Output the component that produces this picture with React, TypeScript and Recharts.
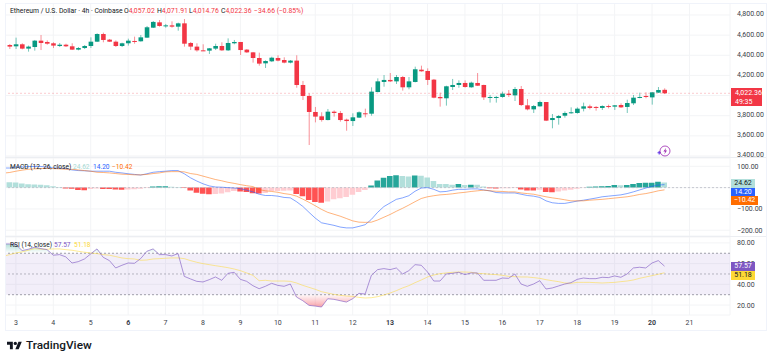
import { ComposedChart, Bar, Line, Area, Cell, XAxis, YAxis, CartesianGrid, ReferenceLine, ReferenceArea } from "recharts";

// the first slot sits just off the left edge, only the indicators still have values there
const opens = [null,
  4502, 4489, 4509, 4466, 4482, 4545, 4532, 4519, 4492, 4505,
  4489, 4456, 4472, 4492, 4535, 4611, 4555, 4535, 4492, 4519,
  4542, 4539, 4575, 4674, 4727, 4688, 4697, 4684, 4717, 4522,
  4486, 4449, 4446, 4466, 4492, 4449, 4519, 4532, 4456, 4429,
  4373, 4320, 4340, 4373, 4353, 4327, 4347, 4105, 3996, 3837,
  3794, 3757, 3840, 3827, 3761, 3747, 3781, 3824, 3820, 4035,
  4135, 4155, 4141, 4184, 4082, 4135, 4257, 4244, 4158, 3986,
  3973, 4085, 4105, 4125, 4082, 4125, 4105, 3979, 3982, 3986,
  4019, 4002, 4065, 3903, 3863, 3893, 3936, 3757, 3777, 3800,
  3827, 3827, 3870, 3893, 3887, 3877, 3896, 3890, 3906, 3887,
  3923, 3979, 3996, 3982, 4029, 4057.02];
const highs = [null,
  4512, 4575, 4519, 4496, 4552, 4601, 4548, 4529, 4522, 4515,
  4519, 4482, 4502, 4578, 4618, 4625, 4562, 4548, 4525, 4565,
  4585, 4601, 4691, 4740, 4750, 4711, 4737, 4724, 4760, 4532,
  4519, 4509, 4472, 4515, 4529, 4568, 4552, 4532, 4462, 4433,
  4426, 4350, 4386, 4400, 4380, 4353, 4400, 4145, 4022, 3887,
  3834, 3867, 3853, 3847, 3771, 3824, 3843, 3870, 4082, 4171,
  4204, 4224, 4204, 4194, 4184, 4287, 4297, 4270, 4165, 4029,
  4098, 4165, 4151, 4151, 4138, 4224, 4108, 4006, 3996, 4039,
  4055, 4085, 4095, 3966, 3906, 3949, 3936, 3817, 3807, 3843,
  3883, 3883, 3930, 3910, 3896, 3903, 3910, 3906, 3923, 3959,
  4006, 4029, 4032, 4035, 4085, 4071.91];
const lows = [null,
  4462, 4462, 4459, 4436, 4446, 4452, 4505, 4472, 4482, 4482,
  4452, 4449, 4462, 4472, 4532, 4529, 4532, 4482, 4482, 4496,
  4515, 4535, 4572, 4671, 4684, 4674, 4674, 4644, 4486, 4452,
  4436, 4443, 4413, 4452, 4443, 4443, 4509, 4403, 4423, 4327,
  4297, 4274, 4333, 4340, 4320, 4320, 4078, 3956, 3509, 3734,
  3741, 3754, 3791, 3741, 3651, 3698, 3777, 3784, 3800, 4032,
  4088, 4135, 4115, 4049, 4062, 4131, 4237, 4105, 3973, 3890,
  3900, 4055, 4078, 4078, 4078, 4095, 3956, 3930, 3930, 3979,
  3986, 3946, 3896, 3853, 3827, 3890, 3747, 3675, 3711, 3781,
  3820, 3820, 3843, 3863, 3850, 3857, 3873, 3857, 3877, 3827,
  3906, 3973, 3973, 3910, 4026, 4014.76];
const closes = [null,
  4486, 4509, 4466, 4486, 4545, 4522, 4515, 4496, 4505, 4489,
  4456, 4472, 4492, 4535, 4611, 4552, 4535, 4492, 4519, 4545,
  4535, 4578, 4678, 4731, 4691, 4697, 4684, 4717, 4515, 4486,
  4449, 4446, 4469, 4492, 4449, 4522, 4532, 4452, 4429, 4373,
  4317, 4343, 4376, 4347, 4327, 4347, 4105, 3996, 3837, 3791,
  3757, 3840, 3827, 3757, 3747, 3784, 3834, 3817, 4039, 4141,
  4155, 4141, 4184, 4082, 4141, 4261, 4241, 4155, 3979, 3973,
  4092, 4105, 4125, 4085, 4128, 4098, 3982, 3986, 3986, 4019,
  4006, 4065, 3906, 3863, 3896, 3936, 3751, 3777, 3797, 3827,
  3834, 3870, 3893, 3877, 3877, 3896, 3887, 3903, 3883, 3926,
  3979, 3986, 3986, 4032, 4055, 4022.36];

const histogram = [26,
  25, 24.5, 19, 16, 14.5, 14, 11, 6, 3, -4,
  -5, -11, -12, -7, -4, -6, -7, -9, -10, -9,
  -8, -5, -2, 5, 6, 6.5, 4, 3, -2, -14,
  -24, -29, -31, -30, -27, -22, -16, -18, -20, -26,
  -28, -25, -16, -15.5, -15, -14, -30, -40, -58, -68,
  -71, -65, -55, -50, -44, -33, -20, -11, 10, 33,
  46, 55, 58, 55, 52, 57, 56, 47, 31, 17,
  16.5, 13, 17, 12, 14, 13, 5, -3, -4, -3,
  -2.5, -2, -9, -13, -14, -10, -20, -22, -18, -14,
  -10, -5, -1, 4, 5, 6, 8, 12, 11, 12,
  17, 22, 22.5, 23, 28, 24.62];
const macd = [92,
  92, 97, 97, 99, 99, 99, 97, 92, 92, 89,
  83, 80, 79, 77, 77, 77, 77, 72, 69, 65,
  62, 59, 65, 72, 75, 77, 80, 80, 65, 46,
  31, 18, 8, 3, 2, 0, -2, -5, -12, -20,
  -31, -37, -37, -40, -46, -48, -66, -88, -116, -143,
  -165, -171, -177, -185, -189, -189, -182, -174, -149, -116,
  -89, -72, -55, -48, -38, -17, -2, 0, -8, -20,
  -18, -12, -8, -8, -6, -6, -11, -15, -23, -25,
  -25, -25, -31, -37, -40, -46, -62, -71, -74, -74,
  -69, -63, -59, -54, -49, -43, -40, -37, -34, -28,
  -20, -11, -2, 6, 12, 14.2];
const macdSignal = [68,
  71, 77, 82, 86, 88, 89, 91, 89, 88, 86,
  86, 83, 80, 77, 72, 71, 69, 66, 63, 62,
  60, 60, 62, 66, 69, 74, 75, 75, 74, 66,
  62, 54, 46, 38, 32, 25, 20, 14, 9, 5,
  -9, -15, -18, -22, -28, -32, -40, -54, -69, -85,
  -102, -116, -125, -134, -145, -156, -162, -163, -162, -152,
  -139, -126, -111, -97, -82, -66, -51, -43, -38, -34,
  -32, -29, -25, -22, -18, -15, -12, -15, -17, -18,
  -20, -20, -25, -28, -31, -37, -43, -48, -52, -57,
  -62, -62, -62, -59, -57, -55, -52, -49, -46, -43,
  -38, -32, -28, -22, -15, -10.42];
const rsi = [79,
  79, 78.4, 72.6, 73.9, 75.8, 74.5, 73.5, 68.1, 68.7, 66.5,
  60.6, 61.9, 64.5, 69.4, 74.2, 66.1, 62.9, 55.8, 58.4, 60.6,
  60.3, 64.8, 71.9, 74.2, 68.7, 68.7, 67.4, 69.7, 47.7, 45.2,
  42.9, 42.3, 44.5, 47.1, 43.9, 50.6, 51.6, 44.8, 42.9, 38.7,
  35.8, 38.1, 41, 39, 38.1, 40.3, 27.7, 24.2, 19.7, 19,
  18.1, 26.1, 25.5, 24.2, 22.9, 26.1, 31.3, 30.6, 48.7, 54.2,
  55.2, 54.2, 55.8, 50, 53.2, 59, 58.4, 51.9, 43.2, 43.2,
  50, 50.6, 51.6, 49.4, 51, 51, 43.9, 43.9, 43.9, 46.1,
  45.8, 50, 40.3, 38.1, 40.3, 43.5, 35.5, 36.5, 38.4, 40.3,
  41.6, 44.8, 46.1, 45.5, 45.5, 46.8, 46.5, 48.1, 46.8, 50,
  55.8, 56.5, 55.8, 60.6, 62.9, 57.57];
const rsiMa = [67,
  68.7, 70.3, 71.3, 72.9, 74.5, 73.9, 73.9, 74.2, 74.2, 73.5,
  72.9, 71.9, 71, 70.3, 69.7, 68.7, 68.1, 66.8, 65.5, 64.8,
  64.5, 63.2, 63.5, 64.5, 64.8, 65.2, 65.5, 65.5, 64.8, 62.9,
  61.3, 60, 59, 58, 57.1, 56.1, 54.8, 53.2, 51, 48.7,
  43.5, 43.9, 43.2, 43.2, 43.2, 42.9, 41.3, 39, 37.1, 35.2,
  32.9, 31.6, 30.3, 29.4, 28.7, 28.4, 27.4, 26.8, 27.1, 28.1,
  29.7, 31.6, 33.9, 36.5, 38.7, 41.6, 44.2, 47.1, 49, 50.3,
  51, 51.6, 51.9, 51.9, 51.6, 50.6, 50.3, 49.7, 49.4, 48.7,
  47.7, 47.4, 47.1, 47.1, 46.5, 45.8, 44.5, 43.5, 42.6, 41.3,
  41, 41.9, 41.9, 41.9, 41.6, 41.3, 41.6, 41.9, 42.6, 43.2,
  44.2, 45.8, 47.1, 48.4, 49.7, 51.18];

const dayLabels = [3, 4, 5, 6, 7, 8, 9, 10, 11, 12, 13, 14, 15, 16, 17, 18, 19, 20, 21];
const dayTicks = dayLabels.map((_, i) => 2 + i * 6); // one tick every 6 candles
const boldDays = [6, 13, 20];
const priceTicks = [3400, 3600, 3800, 4000, 4200, 4400, 4600, 4800];
const macdTicks = [-200, -100, 0, 100];
const rsiTicks = [20, 40, 60, 80];
const futureSlots = 10;

const GREEN = "#089981";
const RED = "#f23645";
const BLUE = "#2962ff";
const ORANGE = "#ff6d00";
const PURPLE = "#7e57c2";
const YELLOW = "#fdd835";
const GRID = "#f3f4f6";
const FONT = "Roboto, sans-serif";

const rows = Array.from({ length: opens.length + futureSlots }, (_, i) => ({
  i,
  open: opens[i] ?? null,
  high: highs[i] ?? null,
  low: lows[i] ?? null,
  close: closes[i] ?? null,
  hist: histogram[i] ?? null,
  macd: macd[i] ?? null,
  signal: macdSignal[i] ?? null,
  rsi: rsi[i] ?? null,
  rsiMa: rsiMa[i] ?? null,
}));

const histColor = (i: number) => {
  const v = histogram[i];
  const prev = histogram[i - 1];
  if (v >= 0) return prev !== undefined && v > prev ? "#26a69a" : "#b2dfdb";
  return prev !== undefined && v < prev ? "#ff5252" : "#ffcdd2";
};

// wick comes from the bar's own low-high range, the body is placed inside it
const Candle = (props: any) => {
  const { x, y, width, height, payload } = props;
  if (payload.high == null) return null;
  const perUnit = height / (payload.high - payload.low);
  const top = y + (payload.high - Math.max(payload.open, payload.close)) * perUnit;
  const bodyH = Math.max(Math.abs(payload.open - payload.close) * perUnit, 1);
  const color = payload.close >= payload.open ? GREEN : RED;
  return (
    <g>
      <rect x={x + width / 2 - 0.5} y={y} width={1} height={height} fill={color} opacity={0.55} />
      <rect x={x} y={top} width={width} height={bodyH} fill={color} />
    </g>
  );
};

const AxisTick = (props: any) => {
  const { x, y, payload, lift = 0 } = props;
  return (
    <text x={x - 1} y={y - lift} dy={2.5} fontSize={7} fontFamily={FONT} fill="#3a3e49">
      {payload.value.toLocaleString("en-US", { minimumFractionDigits: 2 }).replace("-", "\u2212")}
    </text>
  );
};

const DayTick = (props: any) => {
  const { x, y, payload } = props;
  const day = dayLabels[dayTicks.indexOf(payload.value)];
  return (
    <text x={x} y={y + 2} textAnchor="middle" fontSize={7} fontFamily={FONT} fontWeight={boldDays.includes(day) ? 700 : 400} fill="#3a3e49">
      {day}
    </text>
  );
};

const Label = ({ x, y, color = "#131722", size = 6.6, children }: any) => (
  <div style={{ position: "absolute", left: x, top: y, fontFamily: FONT, fontSize: size, lineHeight: "8px", color, whiteSpace: "nowrap" }}>
    {children}
  </div>
);

const Tag = ({ x = 731, y, w = 24, h = 9, bg, color = "#fff", children }: any) => (
  <div style={{ position: "absolute", left: x, top: y, width: w, height: h, background: bg, color, fontFamily: FONT, fontSize: 7, lineHeight: h + "px", textAlign: "center", whiteSpace: "nowrap" }}>
    {children}
  </div>
);

const chartProps = { width: 768, data: rows };
const paneMargin = { top: 0, right: 0, bottom: 0, left: 0.3 };

export default function App() {
  return (
    <div style={{ position: "absolute", left: 0, top: 0, width: 768, height: 361, background: "#fff", overflow: "hidden" }}>
      {/* price pane */}
      <div style={{ position: "absolute", left: 0, top: 3 }}>
        <ComposedChart {...chartProps} height={160} margin={{ ...paneMargin, bottom: 6 }}>
          <CartesianGrid stroke={GRID} strokeWidth={1} />
          <XAxis dataKey="i" scale="band" ticks={dayTicks} interval={0} hide />
          <YAxis orientation="right" width={38} domain={[3390, 4919]} ticks={priceTicks} interval={0} allowDataOverflow axisLine={false} tickLine={false}
            tick={(p: any) => (p.payload.value === 4000 ? <g /> : <AxisTick {...p} lift={1} />)} />
          <ReferenceLine y={4022.36} stroke={RED} strokeOpacity={0.32} strokeDasharray="2 2" strokeWidth={0.8} />
          <Bar dataKey={(d: any) => (d.high == null ? null : [d.low, d.high])} barSize={4.6} shape={<Candle />} isAnimationActive={false} />
        </ComposedChart>
      </div>

      {/* macd pane */}
      <div style={{ position: "absolute", left: 0, top: 158 }}>
        <ComposedChart {...chartProps} height={78} margin={paneMargin}>
          <CartesianGrid stroke={GRID} strokeWidth={1} />
          <XAxis dataKey="i" scale="band" ticks={dayTicks} interval={0} hide />
          <YAxis orientation="right" width={38} domain={[-227, 139]} ticks={macdTicks} interval={0} allowDataOverflow axisLine={false} tickLine={false}
            tick={(p: any) => (p.payload.value === 0 ? <g /> : <AxisTick {...p} />)} />
          <ReferenceLine y={0} stroke="#b2b5be" strokeDasharray="2 2" strokeWidth={0.7} />
          <Bar dataKey="hist" barSize={5.6} isAnimationActive={false}>
            {rows.map((r) => (
              <Cell key={r.i} fill={r.hist == null ? "none" : histColor(r.i)} />
            ))}
          </Bar>
          <Line dataKey="macd" stroke={BLUE} strokeWidth={0.8} strokeOpacity={0.72} dot={false} activeDot={false} isAnimationActive={false} />
          <Line dataKey="signal" stroke={ORANGE} strokeWidth={0.8} strokeOpacity={0.65} dot={false} activeDot={false} isAnimationActive={false} />
        </ComposedChart>
      </div>

      {/* rsi pane and time axis */}
      <div style={{ position: "absolute", left: 0, top: 237 }}>
        <ComposedChart {...chartProps} height={92} margin={paneMargin}>
          <defs>
            <linearGradient id="oversold" x1="0" y1="1" x2="0" y2="0">
              <stop offset="0" stopColor="#f23645" stopOpacity={0.45} />
              <stop offset="1" stopColor="#f23645" stopOpacity={0.03} />
            </linearGradient>
            <linearGradient id="overbought" x1="0" y1="0" x2="0" y2="1">
              <stop offset="0" stopColor="#089981" stopOpacity={0.3} />
              <stop offset="1" stopColor="#089981" stopOpacity={0} />
            </linearGradient>
          </defs>
          <CartesianGrid stroke={GRID} strokeWidth={1} />
          <XAxis dataKey="i" scale="band" ticks={dayTicks} interval={0} height={14} axisLine={false} tickLine={false} tick={<DayTick />} />
          <YAxis orientation="right" width={38} domain={[10.4, 85.7]} ticks={rsiTicks} interval={0} allowDataOverflow axisLine={false} tickLine={false} tick={<AxisTick />} />
          <ReferenceArea y1={30} y2={70} fill={PURPLE} fillOpacity={0.1} stroke="none" />
          <ReferenceLine y={70} stroke="#787b86" strokeDasharray="2 2" strokeWidth={0.7} />
          <ReferenceLine y={50} stroke="#787b86" strokeOpacity={0.7} strokeDasharray="2 2" strokeWidth={0.7} />
          <ReferenceLine y={30} stroke="#787b86" strokeDasharray="2 2" strokeWidth={0.7} />
          <Area dataKey={(d: any) => (d.rsi == null ? null : [Math.min(d.rsi, 30), 30])} stroke="none" fill="url(#oversold)" fillOpacity={1} dot={false} activeDot={false} isAnimationActive={false} />
          <Area dataKey={(d: any) => (d.rsi == null ? null : [70, Math.max(d.rsi, 70)])} stroke="none" fill="url(#overbought)" fillOpacity={1} dot={false} activeDot={false} isAnimationActive={false} />
          <Line dataKey="rsiMa" stroke={YELLOW} strokeWidth={0.8} strokeOpacity={0.65} dot={false} activeDot={false} isAnimationActive={false} />
          <Line dataKey="rsi" stroke={PURPLE} strokeWidth={0.8} strokeOpacity={0.78} dot={false} activeDot={false} isAnimationActive={false} />
        </ComposedChart>
      </div>

      {/* left edge mask, chart frame and pane separators */}
      <div style={{ position: "absolute", left: 0, top: 0, width: 5, height: 332, background: "#fff" }} />
      <div style={{ position: "absolute", left: 5, top: 3, width: 760, height: 326, border: "1px solid #f0f3fa", boxSizing: "content-box" }} />
      <div style={{ position: "absolute", left: 5, top: 157, width: 761, height: 1, background: "#eceef2" }} />
      <div style={{ position: "absolute", left: 5, top: 236, width: 761, height: 1, background: "#eceef2" }} />

      {/* legends */}
      <Label x={10} y={7} size={6.8}>Ethereum / U.S. Dollar · 4h · Coinbase</Label>
      <Label x={124} y={7} color={RED} size={6.8}><span style={{ color: "#131722" }}>O</span>4,057.02</Label>
      <Label x={157} y={7} color={RED} size={6.8}><span style={{ color: "#131722" }}>H</span>4,071.91</Label>
      <Label x={189} y={7} color={RED} size={6.8}><span style={{ color: "#131722" }}>L</span>4,014.76</Label>
      <Label x={221} y={7} color={RED} size={6.8}><span style={{ color: "#131722" }}>C</span>4,022.36</Label>
      <Label x={254} y={7} color={RED} size={6.8}>−34.66 (−0.85%)</Label>

      <Label x={10} y={163}>MACD (12, 26, close)</Label>
      <Label x={73} y={163} color="#a5d9d3">24.62</Label>
      <Label x={93} y={163} color={BLUE}>14.20</Label>
      <Label x={112} y={163} color={ORANGE}>−10.42</Label>

      <Label x={10} y={241}>RSI (14, close)</Label>
      <Label x={54} y={241} color={PURPLE}>57.57</Label>
      <Label x={74} y={241} color={YELLOW}>51.18</Label>

      {/* last value tags */}
      <div style={{ position: "absolute", left: 731, top: 88, width: 31, height: 18, background: RED, color: "#fff", fontFamily: FONT, fontSize: 7, lineHeight: "8.5px", paddingLeft: 4, boxSizing: "border-box", paddingTop: 1 }}>
        4,022.36<br />49:35
      </div>
      <Tag y={179} bg="#b2dfdb" color="#131722">24.62</Tag>
      <Tag y={187.5} bg={BLUE}>14.20</Tag>
      <Tag y={196} w={27} bg={ORANGE}>−10.42</Tag>
      <Tag y={262} bg={PURPLE}>57.57</Tag>
      <Tag y={271} bg={YELLOW} color="#131722">51.18</Tag>

      {/* alert marker */}
      <svg style={{ position: "absolute", left: 656, top: 144 }} width={16} height={14} viewBox="0 0 16 14">
        <path d="M1.5 8.8h3.4M3.2 7.1v3.4" stroke="#5e35e8" strokeWidth={1.1} />
        <circle cx={9} cy={7} r={5} fill="none" stroke="#9c27b0" strokeWidth={0.8} />
        <path d="M10.2 3.8 7.4 7.6h1.8l-1 2.8 2.8-3.9H9.3z" fill="#9c27b0" />
      </svg>

      {/* logo */}
      <svg style={{ position: "absolute", left: 6.5, top: 339.5 }} width={15} height={11.8} viewBox="0 0 36 28">
        <path d="M14 22H7V11H0V4h14v18zM28 22h-8l7.5-18h8L28 22z" fill="#131722" />
        <circle cx={20} cy={8} r={4} fill="#131722" />
      </svg>
      <div style={{ position: "absolute", left: 26, top: 337.5, fontFamily: FONT, fontWeight: 500, fontSize: 11.8, lineHeight: "15px", color: "#131722" }}>
        TradingView
      </div>
    </div>
  );
}
